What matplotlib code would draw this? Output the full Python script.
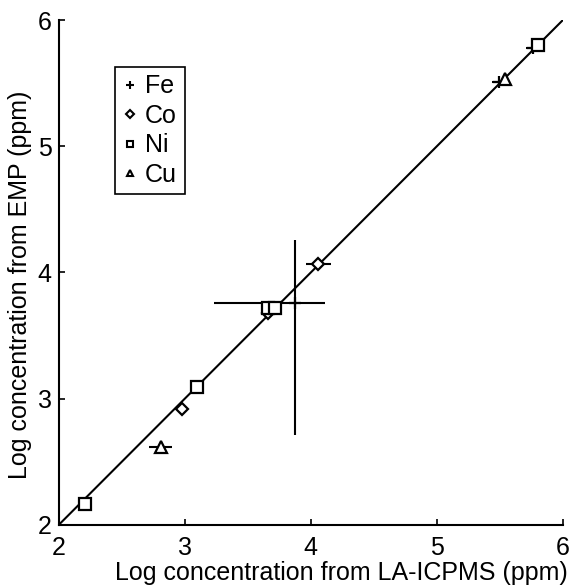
import matplotlib
matplotlib.use('Agg')
import matplotlib.pyplot as plt
from matplotlib.lines import Line2D

plt.rcParams['font.family'] = ['Liberation Sans', 'DejaVu Sans']

# log concentrations: LA-ICPMS (x) vs EMP (y)
fe_x = [3.875, 5.49, 5.76]
fe_y = [3.756, 5.51, 5.78]
fe_xlo = [0.64, 0.05, 0.05]
fe_xhi = [0.24, 0.0, 0.04]
fe_ylo = [1.04, 0.0, 0.0]
fe_yhi = [0.50, 0.0, 0.0]

co_x = [2.98, 3.66, 4.06]
co_y = [2.92, 3.68, 4.07]
co_xerr = [0.0, 0.0, 0.10]

ni_x = [2.21, 3.10, 3.66, 3.72, 5.80]
ni_y = [2.17, 3.09, 3.72, 3.72, 5.80]

cu_x = [2.81, 5.54]
cu_y = [2.62, 5.53]
cu_xerr = [0.09, 0.0]

fig = plt.figure(figsize=(5.75, 5.85), dpi=100)
ax = fig.add_axes([0.102, 0.1026, 0.877, 0.8632])

ax.plot([2, 6], [2, 6], color='black', lw=1.5, zorder=1)

kw = dict(color='black', mfc='white', mec='black', linestyle='none',
          ecolor='black', elinewidth=1.5, capsize=0, mew=1.6, zorder=3)
ax.errorbar(fe_x, fe_y, xerr=[fe_xlo, fe_xhi], yerr=[fe_ylo, fe_yhi],
            marker='+', ms=8, **kw)
ax.errorbar(co_x, co_y, xerr=co_xerr, marker='D', ms=6, **kw)
ax.errorbar(ni_x, ni_y, marker='s', ms=8.5, **kw)
ax.errorbar(cu_x, cu_y, xerr=cu_xerr, marker='^', ms=8.5, **kw)

ax.set_xlim(2, 6)
ax.set_ylim(2, 6)
ax.set_xticks([2, 3, 4, 5, 6])
ax.set_yticks([2, 3, 4, 5, 6])
ax.spines['top'].set_visible(False)
ax.spines['right'].set_visible(False)
for s in ['left', 'bottom']:
    ax.spines[s].set_linewidth(1.5)
ax.tick_params(direction='in', length=4, width=1.2, labelsize=18)
ax.tick_params(axis='x', pad=8)
ax.tick_params(axis='y', pad=5)
ax.set_xlabel('Log concentration from LA-ICPMS (ppm)', fontsize=18)
ax.set_ylabel('Log concentration from EMP (ppm)', fontsize=18)
ax.xaxis.set_label_coords(0.56, -0.072)
ax.yaxis.set_label_coords(-0.052, 0.475)

handles = [
    Line2D([], [], color='black', marker='+', ms=6, mew=1.5, ls='none', label='Fe'),
    Line2D([], [], color='black', marker='D', ms=4, mew=1.5, mfc='white', ls='none', label='Co'),
    Line2D([], [], color='black', marker='s', ms=5, mew=1.5, mfc='white', ls='none', label='Ni'),
    Line2D([], [], color='black', marker='^', ms=5, mew=1.5, mfc='white', ls='none', label='Cu'),
]
leg = ax.legend(handles=handles, loc='upper left', bbox_to_anchor=(0.112, 0.907),
                borderaxespad=0, fontsize=18, handlelength=0.6, handletextpad=0.3,
                labelspacing=0.22, fancybox=False, edgecolor='black',
                framealpha=1, borderpad=0.3)
leg.get_frame().set_linewidth(1.2)

fig.savefig('out.png', dpi=100)
